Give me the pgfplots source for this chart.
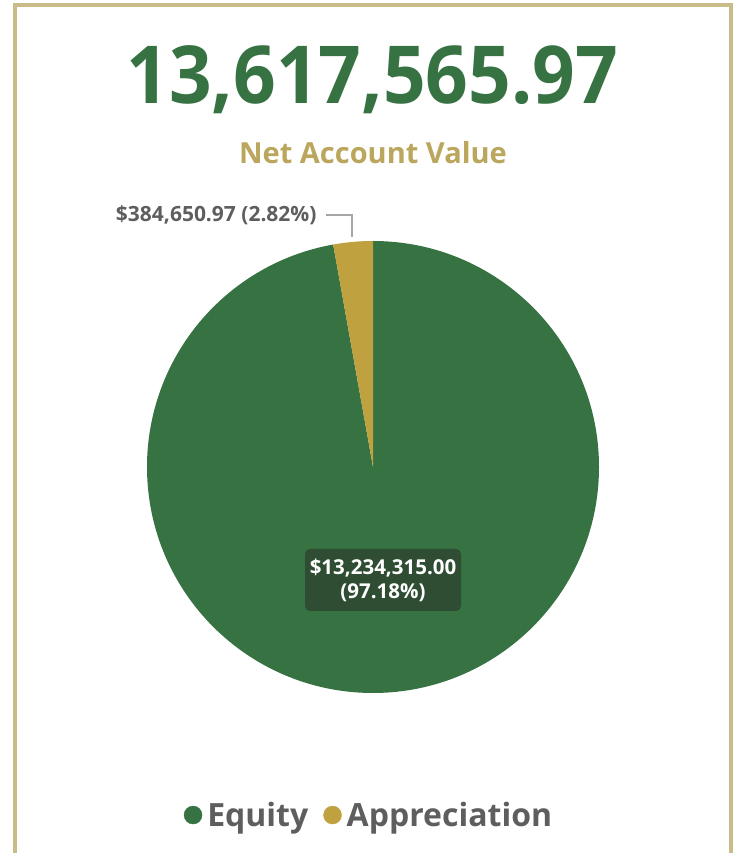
\documentclass[border=0pt]{standalone}
\usepackage{fontspec}
\setmainfont{Open Sans}
\usepackage{pgfplots}
\pgfplotsset{compat=1.18}
\usepackage{pgfplotstable}

\definecolor{equity}{HTML}{367242}
\definecolor{apprec}{HTML}{BFA23F}
\definecolor{frame}{HTML}{C9BC8A}
\definecolor{subt}{HTML}{BBA65E}
\definecolor{txt}{HTML}{5E5E5E}
\definecolor{lblbox}{HTML}{2F4D33}

% slice, value, share in percent
\pgfplotstableread{
slice value percent
Equity 13234315.00 97.18
Appreciation 384650.97 2.82
}\piedata

\pgfplotstablegetelem{0}{percent}\of\piedata
\let\pEq\pgfplotsretval
\pgfplotstablegetelem{1}{percent}\of\piedata
\let\pAp\pgfplotsretval

\begin{document}
\begin{tikzpicture}
\begin{axis}[
  scale only axis, width=736bp, height=853bp,
  xmin=0, xmax=736, ymin=0, ymax=853,
  hide axis, clip=false,
  legend columns=2,
  legend style={draw=none, fill=none, at={(0.5007,0.0445)}, anchor=center,
    font=\fontsize{32bp}{36bp}\selectfont\bfseries\color{txt},
    nodes={inner xsep=1bp},
    /tikz/every odd column/.append style={column sep=4bp},
    /tikz/every even column/.append style={column sep=14bp}},
  legend cell align=left,
  legend image code/.code={\fill[#1] (0bp,0bp) circle (9bp);},
]
% frame
\draw[frame, line width=4bp] (axis cs:15,0) -- (axis cs:15,848) -- (axis cs:731,848) -- (axis cs:731,0);

% pie slices, clockwise from twelve o'clock
\pgfmathsetmacro{\aEq}{90-3.6*\pEq}
\pgfmathsetmacro{\aAp}{\aEq-3.6*\pAp}
\fill[equity] (axis cs:373,386) -- ++(90:226bp) arc[start angle=90, end angle=\aEq, radius=226bp] -- cycle;
\fill[apprec] (axis cs:373,386) -- ++(\aEq:226bp) arc[start angle=\aEq, end angle=\aAp, radius=226bp] -- cycle;

% legend
\addlegendimage{equity}
\addlegendentry{Equity}
\addlegendimage{apprec}
\addlegendentry{Appreciation}

% titles
\node[equity, font=\fontsize{80bp}{80bp}\selectfont\bfseries, xscale=0.934] at (axis cs:372,773) {13,617,565.97};
\node[subt, font=\fontsize{29bp}{31bp}\selectfont\bfseries] at (axis cs:373,700) {Net Account Value};

% slice labels
\draw[black!35, line width=1.3bp] (axis cs:326,638) -- (axis cs:352,638) -- (axis cs:352,616);
\node[txt, font=\fontsize{21bp}{24bp}\selectfont\bfseries, anchor=east] at (axis cs:320,638) {\$384,650.97 (2.82\%)};
\node[fill=lblbox, rounded corners=5bp, text=white, align=center,
  minimum width=156bp, minimum height=62bp, inner sep=2bp,
  font=\fontsize{20.5bp}{24bp}\selectfont\bfseries] at (axis cs:383,273) {\$13,234,315.00\\(97.18\%)};
\end{axis}
\pgfresetboundingbox
\path[use as bounding box] (0,0) rectangle (736bp,853bp);
\end{tikzpicture}
\end{document}
